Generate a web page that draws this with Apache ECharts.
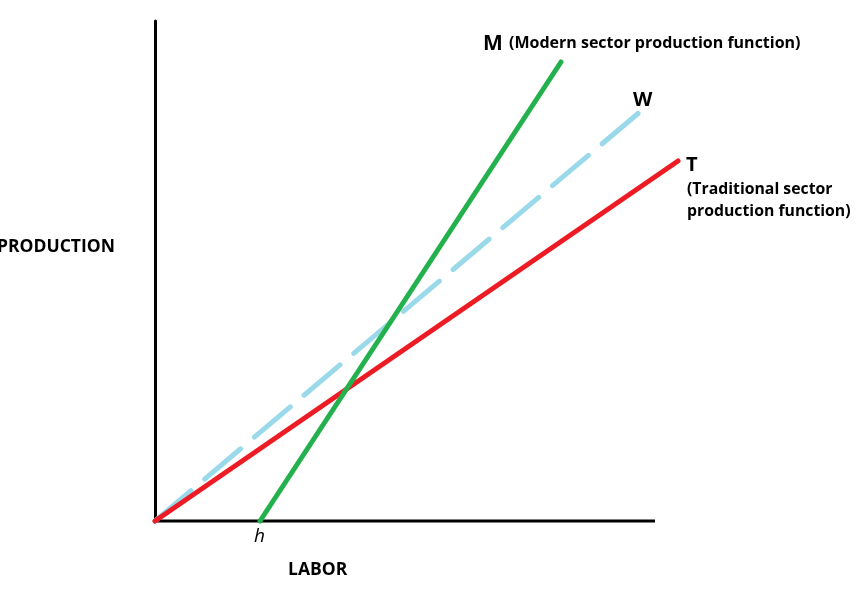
<!DOCTYPE html>
<html>
<head>
<meta charset="utf-8">
<script src="https://cdn.jsdelivr.net/npm/echarts@6/dist/echarts.min.js"></script>
<style>html,body{margin:0;padding:0;background:#fff}#c{width:861px;height:590px}</style>
</head>
<body>
<div id="c"></div>
<script>
// Data (abstract units: 100 units = drawn axis length)
const traditionalT = [[0, 0], [104.6, 72]];
const wageW = [[0, 0], [97.2, 82]];
const modernM = [[21, 0], [81.2, 91.8]];
const xAxisLine = [[0, 0], [100, 0]];
const xAxisTitle = 'LABOR';
const yAxisTitle = 'PRODUCTION';
const hLabel = 'h';
const labelM = ['M', '(Modern sector production function)'];
const labelW = 'W';
const labelT = ['T', '(Traditional sector', 'production function)'];

const chart = echarts.init(document.getElementById('c'));
chart.setOption({
  animation: false,
  backgroundColor: '#fff',
  grid: { left: 155, right: 181, top: 21, bottom: 69 },
  xAxis: {
    type: 'value', min: 0, max: 105,
    axisLine: { show: false },
    axisTick: { show: false }, axisLabel: { show: false }, splitLine: { show: false }
  },
  yAxis: {
    type: 'value', min: 0, max: 100,
    axisLine: { show: true, onZero: false, lineStyle: { color: '#000', width: 3 } },
    axisTick: { show: false }, axisLabel: { show: false }, splitLine: { show: false }
  },
  series: [
    { type: 'line', data: xAxisLine, clip: false, symbol: 'none', z: 1,
      lineStyle: { color: '#000', width: 3 } },
    { type: 'line', data: wageW, clip: false, symbol: 'none', z: 2,
      lineStyle: { color: '#99D9EA', width: 5, type: [47, 18], cap: 'round' } },
    { type: 'line', data: traditionalT, clip: false, symbol: 'none', z: 3,
      lineStyle: { color: '#ED1C24', width: 5, cap: 'round' } },
    { type: 'line', data: modernM, clip: false, symbol: 'none', z: 4,
      lineStyle: { color: '#22B14C', width: 5, cap: 'round' } }
  ],
  graphic: [
    { type: 'text', left: 483, top: 34, style: { text: labelM[0], font: 'bold 21px "Open Sans", sans-serif', fill: '#000' } },
    { type: 'text', left: 509, top: 35, style: { text: labelM[1], font: 'bold 16px "Open Sans", sans-serif', fill: '#000' } },
    { type: 'text', left: 633, top: 90, style: { text: labelW, font: 'bold 20px "Open Sans", sans-serif', fill: '#000' } },
    { type: 'text', left: 686, top: 155, style: { text: labelT[0], font: 'bold 20px "Open Sans", sans-serif', fill: '#000' } },
    { type: 'text', left: 687, top: 181, style: { text: labelT[1], font: 'bold 15.8px "Open Sans", sans-serif', fill: '#000' } },
    { type: 'text', left: 687, top: 203, style: { text: labelT[2], font: 'bold 15.8px "Open Sans", sans-serif', fill: '#000' } },
    { type: 'text', left: -3, top: 238, style: { text: yAxisTitle, font: 'bold 17.5px "Open Sans", sans-serif', fill: '#000' } },
    { type: 'text', left: 288, top: 561, style: { text: xAxisTitle, font: 'bold 17.5px "Open Sans", sans-serif', fill: '#000' } },
    { type: 'text', left: 254, top: 527, style: { text: hLabel, font: 'italic 19px "Open Sans", sans-serif', fill: '#000' } }
  ]
});
</script>
</body>
</html>
